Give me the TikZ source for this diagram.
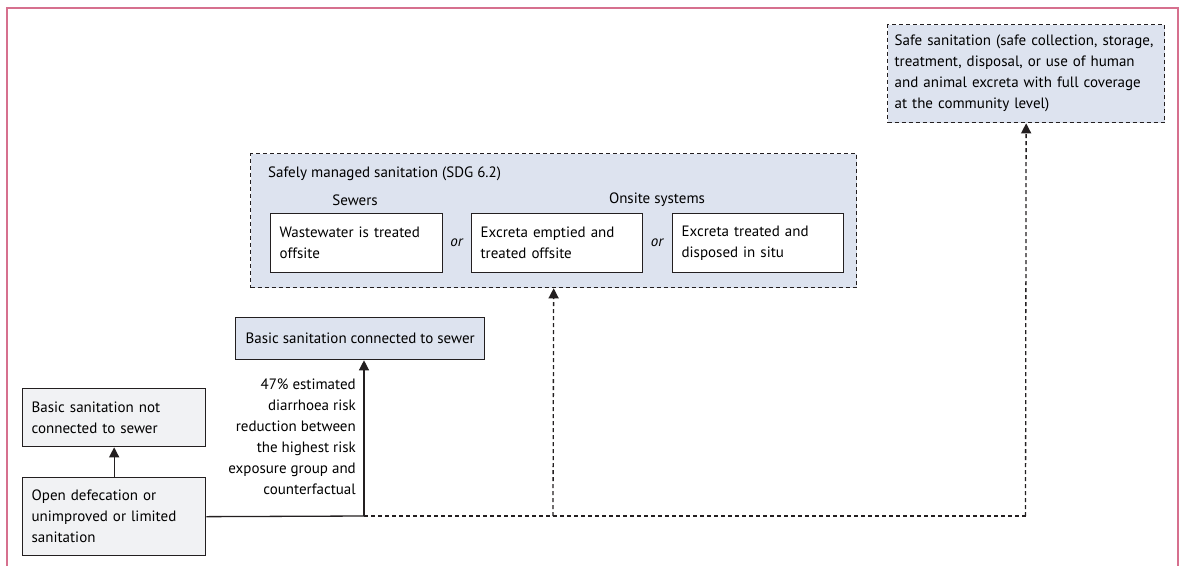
\documentclass[tikz,border=0pt]{standalone}
\usepackage{fontspec}
\setmainfont{PT Sans}
\usetikzlibrary{arrows.meta,positioning}
\definecolor{framepink}{RGB}{214,112,142}
\definecolor{safeblue}{RGB}{221,227,239}
\definecolor{basegrey}{RGB}{241,242,244}
\definecolor{inkline}{RGB}{35,31,32}
\tikzset{>={Triangle[length=10pt,width=10pt]}}
\tikzset{
    box/.style={rectangle,draw=inkline,line width=1.3pt,anchor=north west,align=left,inner xsep=9pt,inner ysep=0pt,font=\fontsize{15}{21}\selectfont},
    greybox/.style={box,fill=basegrey},
    bluebox/.style={box,fill=safeblue},
    whitebox/.style={box,fill=white},
    optional/.style={dash pattern=on 4pt off 3pt},
    plain/.style={rectangle,draw=none,inner sep=0pt,font=\fontsize{15}{21}\selectfont},
    link/.style={draw=inkline,line width=1.3pt},
    directed/.style={link,arrows={->}},
}

\begin{document}
\begin{tikzpicture}[x=1pt,y=-1pt]
		\useasboundingbox (0,0) rectangle (1183,566);
		\draw[framepink, line width=1.6pt] (7,566) -- (7,8) -- (1178,8) -- (1178,566);

		\node[bluebox,optional,inner xsep=7pt,text width=263pt,minimum height=98pt] (safe) at (887,24)
			{Safe sanitation (safe collection, storage,\\ treatment, disposal, or use of human\\ and animal excreta with full coverage\\ at the community level)};

		\node[bluebox,optional,minimum width=606pt,minimum height=134pt] (managed) at (250,153) {};
		\node[plain,anchor=west] (managedtitle) at (268,174) {Safely managed sanitation (SDG 6.2)};
		\node[plain] (sewers) at (355,200) {Sewers};
		\node[plain] (onsite) at (657,200) {Onsite systems};
		\node[whitebox,text width=154pt,minimum height=59pt] (wastewater) at (270,213) {Wastewater is treated\\ offsite};
		\node[whitebox,text width=153pt,minimum height=59pt] (emptied) at (471,213) {Excreta emptied and\\ treated offsite};
		\node[whitebox,text width=153pt,minimum height=59pt] (insitu) at (672,213) {Excreta treated and\\ disposed in situ};
		\node[plain,font=\fontsize{15}{21}\selectfont\itshape] (or1) at (456.5,243) {or};
		\node[plain,font=\fontsize{15}{21}\selectfont\itshape] (or2) at (657,243) {or};

		\node[bluebox,inner xsep=6pt,minimum width=249pt,minimum height=42pt] (sewer) at (235,317) {Basic sanitation connected to sewer};
		\node[greybox,text width=165pt,minimum height=58pt] (notconnected) at (22,388) {Basic sanitation not\\ connected to sewer};
		\node[greybox,text width=165pt,minimum height=78pt] (opendef) at (22,477) {Open defecation or\\ unimproved or limited\\ sanitation};
		\node[plain,align=right,anchor=north east] (effect) at (356,379)
			{47\% estimated\\ diarrhoea risk\\ reduction between\\ the highest risk\\ exposure group and\\ counterfactual};

		\coordinate (split) at (364,516);
		\coordinate (managedfoot) at (553,516);
		\coordinate (safefoot) at (1025.5,516);

		\draw[directed] (opendef) -- (notconnected);
		\draw[link] (opendef.east) -- (split);
		\draw[directed] (split) -- (split |- sewer.south);
		\draw[link,optional] (split) -- (safefoot);
		\draw[directed,optional] (managedfoot) -- (managed.south);
		\draw[directed,optional] (safefoot) -- (safe.south);
	\end{tikzpicture}
\end{document}
